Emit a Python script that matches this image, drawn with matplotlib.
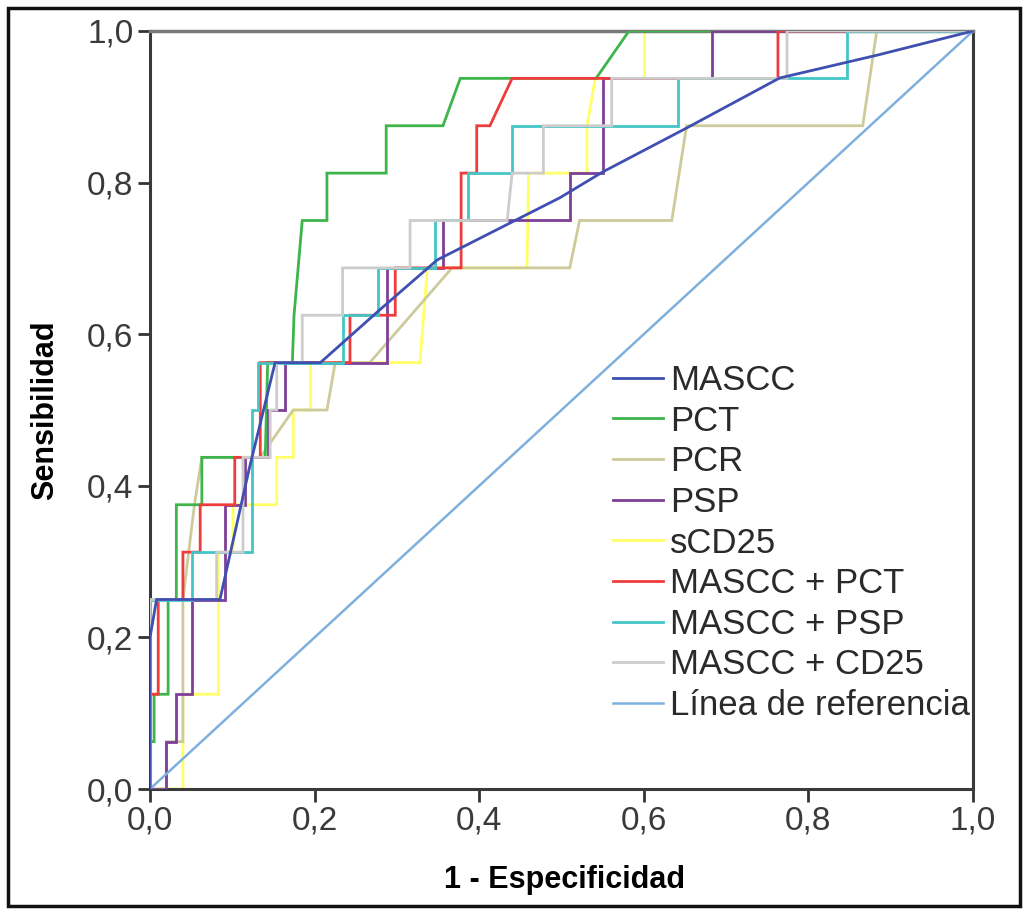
import matplotlib
matplotlib.use("Agg")
import matplotlib.pyplot as plt
from matplotlib.patches import Rectangle

plt.rcParams['font.family'] = ['Liberation Sans', 'DejaVu Sans']

# ---- data (1 - specificity, sensitivity) ----
mascc_x = [0, 0, 0.008, 0.085, 0.12, 0.152, 0.207, 0.279, 0.349, 0.498, 0.55, 0.652, 0.765, 0.883, 1]
mascc_y = [0, 0.2, 0.25, 0.25, 0.42, 0.5625, 0.5625, 0.632, 0.698, 0.78, 0.814, 0.872, 0.938, 0.968, 1]

pct_x = [0, 0, 0.005, 0.005, 0.022, 0.022, 0.032, 0.032, 0.063, 0.063, 0.14, 0.143, 0.173, 0.175, 0.185, 0.215, 0.215, 0.287, 0.287, 0.356, 0.377, 0.542, 0.582, 1]
pct_y = [0, 0.0625, 0.0625, 0.125, 0.125, 0.25, 0.25, 0.375, 0.375, 0.4375, 0.4375, 0.5625, 0.5625, 0.625, 0.75, 0.75, 0.8125, 0.8125, 0.875, 0.875, 0.9375, 0.9375, 1, 1]

pcr_x = [0, 0.02, 0.02, 0.04, 0.04, 0.054, 0.063, 0.134, 0.174, 0.215, 0.225, 0.267, 0.367, 0.51, 0.522, 0.634, 0.652, 0.866, 0.883, 1]
pcr_y = [0, 0, 0.0625, 0.0625, 0.25, 0.375, 0.4375, 0.4375, 0.5, 0.5, 0.5625, 0.5625, 0.6875, 0.6875, 0.75, 0.75, 0.875, 0.875, 1, 1]

psp_x = [0, 0.02, 0.02, 0.032, 0.032, 0.051, 0.051, 0.091, 0.091, 0.115, 0.115, 0.143, 0.143, 0.164, 0.164, 0.288, 0.288, 0.356, 0.356, 0.51, 0.51, 0.55, 0.55, 0.683, 0.683, 1]
psp_y = [0, 0, 0.0625, 0.0625, 0.125, 0.125, 0.25, 0.25, 0.375, 0.375, 0.4375, 0.4375, 0.5, 0.5, 0.5625, 0.5625, 0.6875, 0.6875, 0.75, 0.75, 0.8125, 0.8125, 0.9375, 0.9375, 1, 1]

scd25_x = [0, 0.04, 0.04, 0.083, 0.083, 0.101, 0.101, 0.154, 0.154, 0.174, 0.174, 0.195, 0.195, 0.328, 0.337, 0.458, 0.46, 0.531, 0.531, 0.541, 0.601, 0.601, 1]
scd25_y = [0, 0, 0.125, 0.125, 0.3125, 0.3125, 0.375, 0.375, 0.4375, 0.4375, 0.5, 0.5, 0.5625, 0.5625, 0.6875, 0.6875, 0.8125, 0.8125, 0.875, 0.9375, 0.9375, 1, 1]

mpct_x = [0, 0, 0.01, 0.01, 0.04, 0.04, 0.061, 0.061, 0.103, 0.103, 0.134, 0.134, 0.243, 0.243, 0.298, 0.298, 0.378, 0.378, 0.397, 0.397, 0.413, 0.44, 0.763, 0.763, 1]
mpct_y = [0, 0.125, 0.125, 0.25, 0.25, 0.3125, 0.3125, 0.375, 0.375, 0.4375, 0.4375, 0.5625, 0.5625, 0.625, 0.625, 0.6875, 0.6875, 0.8125, 0.8125, 0.875, 0.875, 0.9375, 0.9375, 1, 1]

mpsp_x = [0, 0, 0.051, 0.051, 0.124, 0.124, 0.131, 0.131, 0.234, 0.234, 0.277, 0.277, 0.346, 0.346, 0.386, 0.386, 0.44, 0.44, 0.642, 0.642, 0.847, 0.847, 1]
mpsp_y = [0, 0.25, 0.25, 0.3125, 0.3125, 0.5, 0.5, 0.5625, 0.5625, 0.625, 0.625, 0.6875, 0.6875, 0.75, 0.75, 0.8125, 0.8125, 0.875, 0.875, 0.9375, 0.9375, 1, 1]

mcd25_x = [0, 0, 0.081, 0.081, 0.113, 0.113, 0.146, 0.146, 0.154, 0.154, 0.185, 0.185, 0.234, 0.234, 0.316, 0.316, 0.434, 0.44, 0.478, 0.478, 0.561, 0.561, 0.774, 0.774, 1]
mcd25_y = [0, 0.25, 0.25, 0.3125, 0.3125, 0.4375, 0.4375, 0.5, 0.5, 0.5625, 0.5625, 0.625, 0.625, 0.6875, 0.6875, 0.75, 0.75, 0.8125, 0.8125, 0.875, 0.875, 0.9375, 0.9375, 1, 1]

ref_x = [0, 1]
ref_y = [0, 1]

labels = ["MASCC", "PCT", "PCR", "PSP", "sCD25", "MASCC + PCT", "MASCC + PSP",
          "MASCC + CD25", "Línea de referencia"]
ticks = [0.0, 0.2, 0.4, 0.6, 0.8, 1.0]
tick_labels = ["0,0", "0,2", "0,4", "0,6", "0,8", "1,0"]

colors = ["#3F4FB2", "#3DB54A", "#CDCB9B", "#7E3F98", "#FFFF66", "#EE3B3B",
          "#44C6C6", "#CCCCCC", "#7EB0DE"]

series = [(mascc_x, mascc_y), (pct_x, pct_y), (pcr_x, pcr_y), (psp_x, psp_y),
          (scd25_x, scd25_y), (mpct_x, mpct_y), (mpsp_x, mpsp_y),
          (mcd25_x, mcd25_y), (ref_x, ref_y)]

fig = plt.figure(figsize=(10.27, 9.14), dpi=100)
ax = fig.add_axes([150/1027, 1-789/914, 823/1027, 758/914])

zorders = [12, 4, 3, 5, 2, 6, 7, 8, 9]
handles = []
for (xs, ys), lab, c, z in zip(series, labels, colors, zorders):
    lw = 2.0 if lab != "Línea de referencia" else 1.8
    h, = ax.plot(xs, ys, color=c, lw=lw, label=lab, zorder=z, solid_joinstyle='miter')
    handles.append(h)

ax.set_xlim(0, 1)
ax.set_ylim(0, 1)
ax.set_xticks(ticks)
ax.set_yticks(ticks)
ax.set_xticklabels(tick_labels)
ax.set_yticklabels(tick_labels)
ax.tick_params(axis='both', direction='out', length=9, width=2, color='#333333',
               labelsize=24, labelcolor='#3a3a3a', pad=3)
for side in ['left', 'bottom', 'right']:
    ax.spines[side].set_linewidth(2.2)
    ax.spines[side].set_color('#3a3a3a')
ax.spines['top'].set_linewidth(2.5)
ax.spines['top'].set_color('#7a7a7a')

fig.text(565/1027, 1-880/914, "1 - Especificidad", fontsize=22, fontweight='bold',
         ha='center', va='center')
fig.text(45/1027, 1-410/914, "Sensibilidad", fontsize=22, fontweight='bold',
         ha='center', va='center', rotation=90)

leg = fig.legend(handles=handles, labels=labels, loc='upper left',
                 bbox_to_anchor=(613/1027, 1-364/914), frameon=False,
                 fontsize=25, handlelength=1.45, handletextpad=0.2,
                 labelspacing=0.22, borderpad=0, borderaxespad=0)
for t in leg.get_texts():
    t.set_color('#2a2a2a')

fig.patches.append(Rectangle((8/1027, 1-906/914), 1012/1027, 898/914,
                             transform=fig.transFigure, fill=False,
                             edgecolor='#111111', linewidth=2.5))

fig.savefig("out.png", dpi=100)
